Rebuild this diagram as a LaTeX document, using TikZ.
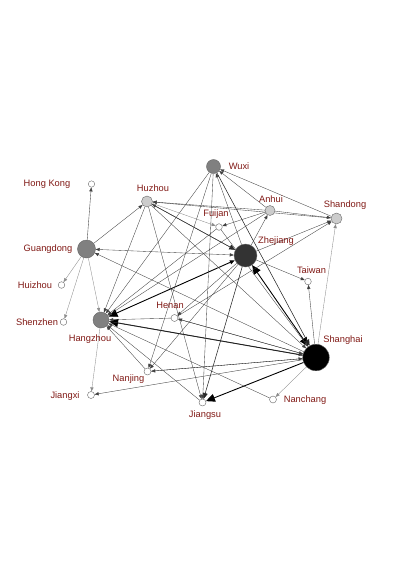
\documentclass[tikz,border=0pt]{standalone}
\usepackage{fontspec}
\setmainfont{Liberation Sans}
\usetikzlibrary{arrows.meta}
\pgfdeclarelayer{bg}
\pgfsetlayers{bg,main}
\definecolor{labred}{RGB}{128,24,20}
\definecolor{midgray}{RGB}{128,128,128}
\definecolor{lightg}{RGB}{204,204,204}
\definecolor{darkn}{RGB}{51,51,51}
\tikzset{
 nd/.style={circle,draw=black!60,line width=0.4pt,inner sep=0pt,minimum size=#1},
 lab/.style={text=labred,font=\fontsize{9.3}{10}\selectfont,inner sep=0pt},
 ed/.style={draw=black!75,line width=0.35pt,-{Triangle[length=4pt,width=3.2pt]}},
 edl/.style={draw=black!45,line width=0.35pt,-{Triangle[length=4pt,width=3.2pt]}},
 edm/.style={draw=black!85,line width=0.55pt,-{Triangle[length=6pt,width=5pt]}},
 edb/.style={draw=black,line width=0.9pt,-{Triangle[length=9pt,width=8pt]}},
}
\begin{document}
\begin{tikzpicture}[x=1pt,y=-1pt]
\useasboundingbox (0,0) rectangle (400,566);
% nodes
\node[nd=6.4pt,fill=white] (HK) at (91.5,184) {};
\node[nd=11pt,fill=lightg] (Hu) at (147,201.5) {};
\node[nd=18pt,fill=midgray] (Gd) at (86.5,249) {};
\node[nd=14pt,fill=midgray] (Wx) at (213.5,166.5) {};
\node[nd=10pt,fill=lightg] (Ah) at (270,210.5) {};
\node[nd=11pt,fill=lightg] (Sd) at (336.5,218.5) {};
\node[nd=6.6pt,fill=white] (Fj) at (219,227) {};
\node[nd=23pt,fill=darkn] (Zj) at (245.5,255.5) {};
\node[nd=6.6pt,fill=white] (Tw) at (308,281.5) {};
\node[nd=6.6pt,fill=white] (Hz) at (61.5,285) {};
\node[nd=6.6pt,fill=white] (Sz) at (63.5,322) {};
\node[nd=16pt,fill=midgray] (Hgz) at (101,320) {};
\node[nd=7pt,fill=white] (Hn) at (174.5,318) {};
\node[nd=7pt,fill=white] (Nj) at (147.5,371.5) {};
\node[nd=7pt,fill=white] (Jx) at (91,395) {};
\node[nd=26.6pt,fill=black] (Sh) at (316,357.5) {};
\node[nd=7pt,fill=white] (Nc) at (273,399.5) {};
\node[nd=7pt,fill=white] (Js) at (202.5,402.5) {};
% labels
\node[lab] (lHK) at (47,184) {Hong Kong};
\node[lab] (lHu) at (153,188) {Huzhou};
\node[lab] (lGd) at (48,249) {Guangdong};
\node[lab] (lWx) at (239,166) {Wuxi};
\node[lab] (lAh) at (271,199) {Anhui};
\node[lab] (lSd) at (345,205) {Shandong};
\node[lab] (lFj) at (216,214) {Fuijan};
\node[lab] (lZj) at (276,241) {Zhejiang};
\node[lab] (lTw) at (311.5,270.5) {Taiwan};
\node[lab] (lHz) at (35,285) {Huizhou};
\node[lab] (lSz) at (37,322) {Shenzhen};
\node[lab] (lHgz) at (90,339) {Hangzhou};
\node[lab] (lHn) at (170,305) {Henan};
\node[lab] (lNj) at (128.5,379) {Nanjing};
\node[lab] (lJx) at (65,396.5) {Jiangxi};
\node[lab] (lSh) at (343,340) {Shanghai};
\node[lab] (lNc) at (305,400) {Nanchang};
\node[lab] (lJs) at (205,415) {Jiangsu};
% edges
\begin{pgfonlayer}{bg}
\draw[ed] (Gd) -- (HK);
\draw[edl] (Gd) -- (Hz);
\draw[edl] (Gd) -- (Sz);
\draw[ed] (Gd) -- (Hu);
\draw[edl] (Gd) -- (Hgz);
\draw[ed,{Triangle[length=4pt,width=3.2pt]}-{Triangle[length=4pt,width=3.2pt]}] (Zj) -- (Gd);
\draw[ed] (Sh) -- (Gd);
\draw[edb,{Triangle[length=5pt,width=4pt]}-{Triangle[length=9pt,width=8pt]}] (Zj) -- (Hgz);
\draw[edb] (Sh) -- (Hgz);
\draw[edb,{Triangle[length=9pt,width=8pt]}-{Triangle[length=9pt,width=8pt]}] (Zj) -- (Sh);
\draw[edm] (Wx) -- (Sh);
\draw[ed] (Zj) -- (Wx);
\draw[edm] (Hu) -- (Zj);
\draw[ed] (Zj) -- (Hu);
\draw[ed] (Ah) -- (Hu);
\draw[ed] (Sd) -- (Hu);
\draw[ed] (Ah) -- (Fj);
\draw[edl] (Hu) -- (Fj);
\draw[ed] (Zj) -- (Ah);
\draw[ed] (Ah) -- (Wx);
\draw[ed] (Sd) -- (Wx);
\draw[ed] (Ah) -- (Sd);
\draw[ed] (Zj) -- (Sd);
\draw[ed] (Hn) -- (Sd);
\draw[edl] (Sh) -- (Sd);
\draw[ed] (Sh) -- (Tw);
\draw[ed] (Zj) -- (Tw);
\draw[ed] (Hn) -- (Hgz);
\draw[ed] (Nj) -- (Hgz);
\draw[ed] (Js) -- (Hgz);
\draw[ed] (Nc) -- (Hgz);
\draw[ed] (Wx) -- (Hgz);
\draw[ed] (Hu) -- (Hgz);
\draw[ed] (Fj) -- (Hgz);
\draw[ed] (Ah) -- (Hgz);
\draw[edl] (Hgz) -- (Jx);
\draw[ed] (Sh) -- (Jx);
\draw[ed] (Hgz) -- (Sh);
\draw[ed] (Hn) -- (Sh);
\draw[ed] (Nj) -- (Sh);
\draw[edb] (Sh) -- (Js);
\draw[edm] (Zj) -- (Js);
\draw[ed] (Wx) -- (Js);
\draw[ed] (Wx) -- (Nj);
\draw[ed] (Zj) -- (Nj);
\draw[ed] (Sh) -- (Nj);
\draw[ed] (Zj) -- (Hn);
\draw[ed] (Sh) -- (Hn);
\draw[edl] (Sh) -- (Nc);
\draw[ed] (Fj) -- (Sh);
\draw[ed] (Hu) -- (Sh);
\draw[ed] (Hu) -- (Js);
\end{pgfonlayer}
\end{tikzpicture}
\end{document}
